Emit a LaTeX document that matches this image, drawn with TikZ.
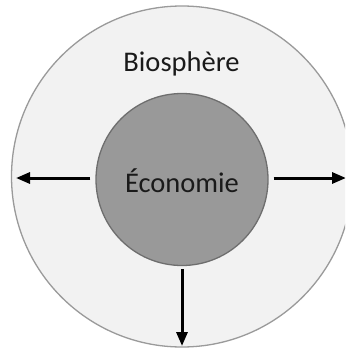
\documentclass[tikz,border=0pt]{standalone}
\usepackage{fontspec}
\setmainfont{Carlito}
\usetikzlibrary{arrows.meta}
\definecolor{bioFill}{HTML}{F2F2F2}
\definecolor{bioLine}{HTML}{9A9A9A}
\definecolor{ecoFill}{HTML}{999999}
\definecolor{ecoLine}{HTML}{6E6E6E}
\definecolor{labelInk}{HTML}{1A1A1A}
\begin{document}
\begin{tikzpicture}[x=1pt,y=-1pt,
  sphere/.style={circle,inner sep=0pt,line width=1.3pt},
  label/.style={font=\fontsize{28.5}{30}\selectfont,text=labelInk,inner sep=0pt,anchor=base},
  flow/.style={line width=3pt,-{Triangle[length=14pt,width=11pt]}}]
  \useasboundingbox (0,0) rectangle (345,350);
  \begin{scope}
    \clip (0,0) rectangle (345,350);
    % outer biosphere and inner economy
    \node[sphere,draw=bioLine,fill=bioFill,minimum size=341pt] (bio) at (182,176.5) {};
    \node[sphere,draw=ecoLine,fill=ecoFill,minimum size=172pt] (eco) at (182,179.5) {};
    \node[label] (biotxt) at (181.5,72) {Biosphère};
    \node[label] (ecotxt) at (182,192) {Économie};
    % flows out of the economy
    \coordinate (wtip) at (16,178);
    \coordinate (etip) at (346,178);
    \coordinate (stip) at (182,346);
    \draw[flow] ([xshift=-5pt,yshift=1.5pt]eco.west) -- (wtip);
    \draw[flow] ([xshift=5pt,yshift=1.5pt]eco.east) -- (etip);
    \draw[flow] ([yshift=-3pt]eco.south) -- (stip);
  \end{scope}
\end{tikzpicture}
\end{document}
